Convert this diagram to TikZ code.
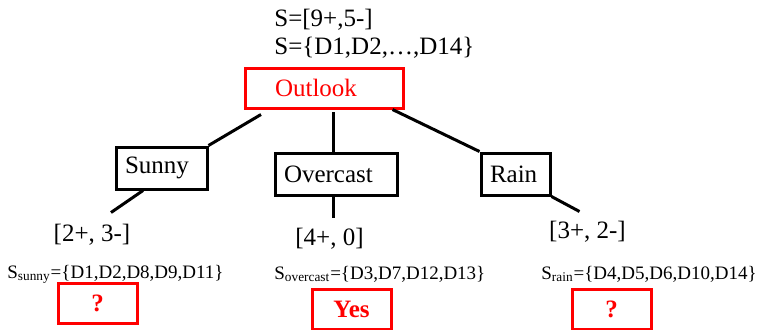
\documentclass[tikz,border=0pt]{standalone}
\usepackage{fontspec}
\setmainfont{Liberation Serif}
\usetikzlibrary{positioning}

\begin{document}
\begin{tikzpicture}[x=0.5pt,y=-0.5pt,
    attr/.style={draw=red,line width=1.5pt,text=red,align=left,inner xsep=15pt,text width=49pt,minimum height=20pt,font=\fontsize{12.5}{14}\selectfont},
    val/.style={draw,line width=1.5pt,align=left,inner xsep=4.5pt,minimum height=21pt,font=\fontsize{12.5}{14}\selectfont},
    leaf/.style={draw=red,line width=1.5pt,text=red,minimum width=39.5pt,minimum height=20pt,font=\bfseries\fontsize{12.5}{14}\selectfont},
    txt/.style={inner sep=0pt,font=\fontsize{12.5}{14}\selectfont},
    small/.style={inner sep=0pt,anchor=west,font=\fontsize{9.5}{11}\selectfont},
    branch/.style={line width=1.5pt}]
    \useasboundingbox (0,0) rectangle (759,329);

    % root and its sample
    \node[txt,anchor=west] (s) at (274,20) {S=[9+,5-]};
    \node[txt,anchor=west] (sd) at (274,48) {S=\{D1,D2,\ldots,D14\}};
    \node[attr] (outlook) at (324,88) {Outlook};

    % values of Outlook
    \node[val,text width=36.5pt] (sunny) at (161.5,168) {Sunny};
    \node[val,text width=52pt] (overcast) at (336,174.5) {Overcast};
    \node[val,text width=25.5pt] (rain) at (515.5,174) {Rain};

    \node[txt] (csunny) at (92,235) {[2+, 3-]};
    \node[txt] (covercast) at (329.5,239) {[4+, 0]};
    \node[txt] (crain) at (587.5,232) {[3+, 2-]};

    % leaves
    \node[leaf] (lsunny) at (97.5,303) {?};
    \node[leaf] (lovercast) at (351.5,309) {Yes};
    \node[leaf] (lrain) at (611.5,309) {?};

    \node[small] (ssunny) at (7,274) {S\textsubscript{sunny}=\{D1,D2,D8,D9,D11\}};
    \node[small] (sovercast) at (274,274) {S\textsubscript{overcast}=\{D3,D7,D12,D13\}};
    \node[small] (srain) at (541,274) {S\textsubscript{rain}=\{D4,D5,D6,D10,D14\}};

    \draw[branch] ([xshift=-31.5pt,yshift=-2.5pt]outlook.south) -- (sunny.north east);
    \draw[branch] ([xshift=-1.5pt]overcast.north) -- ++(0,-40);
    \draw[branch] ([xshift=-6pt]outlook.south east) -- (rain.north west);
    \draw[branch] ([xshift=-9.25pt]sunny.south) -- ++(-32,22);
    \draw[branch] ([xshift=-1.5pt]overcast.south) -- ++(0,21);
    \draw[branch] (rain.south east) -- ++(28,15);
\end{tikzpicture}
\end{document}
